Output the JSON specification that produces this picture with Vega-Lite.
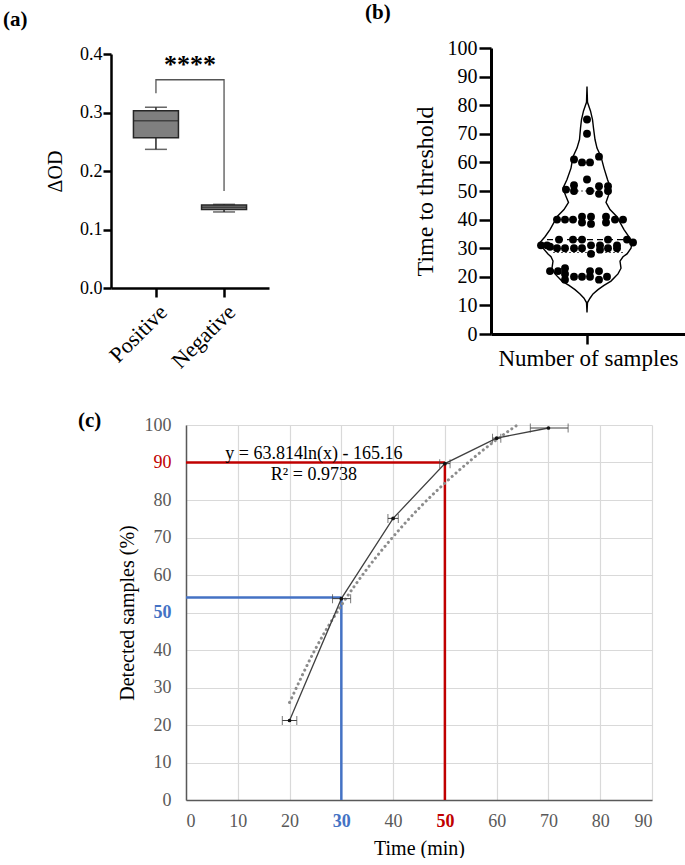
{
  "$schema": "https://vega.github.io/schema/vega-lite/v6.json",
  "padding": {"left": 3, "top": 2, "right": 0, "bottom": 0},
  "config": {
    "font": "Liberation Serif",
    "view": {"stroke": null},
    "title": {"fontSize": 21, "fontWeight": "bold", "anchor": "start", "frame": "group", "color": "black", "font": "Liberation Serif"},
    "axis": {"labelFont": "Liberation Serif", "titleFont": "Liberation Serif", "titleFontWeight": "normal", "titleColor": "black", "labelColor": "black"}
  },
  "spacing": 38,
  "vconcat": [
    {
      "bounds": "flush",
      "spacing": 222,
      "hconcat": [
        {
          "title": {"text": "(a)", "dx": -108, "offset": 15},
          "width": 158,
          "height": 240,
          "layer": [
            {
              "data": {"values": [
                {"group": "Positive", "min": 0.237, "q1": 0.257, "median": 0.286, "q3": 0.303, "max": 0.309},
                {"group": "Negative", "min": 0.130, "q1": 0.134, "median": 0.138, "q3": 0.142, "max": 0.143}
              ]},
              "layer": [
                {
                  "mark": {"type": "rule", "color": "#262626", "strokeWidth": 1.5},
                  "encoding": {
                    "x": {"field": "group", "type": "nominal", "sort": ["Positive", "Negative"], "scale": {"type": "point", "padding": 0.66},
                      "axis": {"title": null, "labelAngle": -45, "labelFontSize": 22, "domainColor": "black", "domainWidth": 2.5, "tickColor": "black", "tickWidth": 2.5, "tickSize": 9, "labelPadding": 4}},
                    "y": {"field": "min", "type": "quantitative", "scale": {"domain": [0, 0.4], "range": [240, 6], "nice": false},
                      "axis": {"title": "ΔOD", "values": [0, 0.1, 0.2, 0.3, 0.4], "format": ".1f", "labelFontSize": 18, "titleFontSize": 20, "domainColor": "black", "domainWidth": 2.5, "tickColor": "black", "tickWidth": 2.5, "tickSize": 8, "labelPadding": 1, "grid": false, "titlePadding": 14}},
                    "y2": {"field": "max"}
                  }
                },
                {
                  "mark": {"type": "bar", "width": 45, "fill": "#7f7f7f", "stroke": "#262626", "strokeWidth": 1.5},
                  "encoding": {
                    "x": {"field": "group", "type": "nominal", "sort": ["Positive", "Negative"]},
                    "y": {"field": "q1", "type": "quantitative", "axis": {"values": [0, 0.1, 0.2, 0.3, 0.4]}},
                    "y2": {"field": "q3"}
                  }
                },
                {
                  "mark": {"type": "tick", "size": 45, "thickness": 1.5, "color": "#262626"},
                  "encoding": {
                    "x": {"field": "group", "type": "nominal", "sort": ["Positive", "Negative"]},
                    "y": {"field": "median", "type": "quantitative", "axis": {"values": [0, 0.1, 0.2, 0.3, 0.4]}}
                  }
                },
                {
                  "mark": {"type": "tick", "size": 22, "thickness": 1.5, "color": "#262626"},
                  "encoding": {
                    "x": {"field": "group", "type": "nominal", "sort": ["Positive", "Negative"]},
                    "y": {"field": "min", "type": "quantitative", "axis": {"values": [0, 0.1, 0.2, 0.3, 0.4]}}
                  }
                },
                {
                  "mark": {"type": "tick", "size": 22, "thickness": 1.5, "color": "#262626"},
                  "encoding": {
                    "x": {"field": "group", "type": "nominal", "sort": ["Positive", "Negative"]},
                    "y": {"field": "max", "type": "quantitative", "axis": {"values": [0, 0.1, 0.2, 0.3, 0.4]}}
                  }
                }
              ]
            },
            {
              "data": {"values": [
                {"group": "Positive", "v": 0.333, "o": 1},
                {"group": "Positive", "v": 0.356, "o": 2},
                {"group": "Negative", "v": 0.356, "o": 3},
                {"group": "Negative", "v": 0.166, "o": 4}
              ]},
              "mark": {"type": "line", "color": "#555555", "strokeWidth": 1.3},
              "encoding": {
                "x": {"field": "group", "type": "nominal", "sort": ["Positive", "Negative"]},
                "y": {"field": "v", "type": "quantitative", "axis": {"values": [0, 0.1, 0.2, 0.3, 0.4]}},
                "order": {"field": "o", "type": "quantitative"}
              }
            },
            {
              "data": {"values": [{"group": "Positive", "v": 0.368, "label": "****"}]},
              "mark": {"type": "text", "fontSize": 26, "fontWeight": "bold", "dx": 34, "baseline": "alphabetic", "align": "center", "color": "black"},
              "encoding": {
                "x": {"field": "group", "type": "nominal", "sort": ["Positive", "Negative"]},
                "y": {"field": "v", "type": "quantitative", "axis": {"values": [0, 0.1, 0.2, 0.3, 0.4]}},
                "text": {"field": "label"}
              }
            }
          ]
        },
        {
          "title": {"text": "(b)", "dx": -126, "offset": 15},
          "width": 194,
          "height": 286,
          "layer": [
            {
              "data": {"values": [
                {"t": 86.5, "left": 0, "right": 0},
                {"t": 81, "left": -0.5, "right": 0.5},
                {"t": 78, "left": -3.5, "right": 3.5},
                {"t": 75, "left": -5.5, "right": 5.5},
                {"t": 72, "left": -6.5, "right": 6.5},
                {"t": 68, "left": -7.5, "right": 8},
                {"t": 65, "left": -10, "right": 10},
                {"t": 62, "left": -14, "right": 14},
                {"t": 58, "left": -16, "right": 17},
                {"t": 54, "left": -20, "right": 20.5},
                {"t": 51, "left": -24, "right": 23.5},
                {"t": 48.5, "left": -21.5, "right": 21.5},
                {"t": 46, "left": -18.5, "right": 19},
                {"t": 43.5, "left": -23, "right": 23},
                {"t": 41, "left": -30, "right": 30},
                {"t": 39, "left": -33, "right": 33},
                {"t": 36.5, "left": -37, "right": 37},
                {"t": 34, "left": -42, "right": 42},
                {"t": 32, "left": -47, "right": 45},
                {"t": 30, "left": -44, "right": 44},
                {"t": 28, "left": -39, "right": 40},
                {"t": 27, "left": -36, "right": 36},
                {"t": 25.5, "left": -34, "right": 33},
                {"t": 23, "left": -35, "right": 34},
                {"t": 21, "left": -32, "right": 31},
                {"t": 18.5, "left": -25, "right": 24},
                {"t": 17, "left": -18, "right": 17},
                {"t": 15.5, "left": -12, "right": 11},
                {"t": 14, "left": -7, "right": 6},
                {"t": 12.5, "left": -3, "right": 3},
                {"t": 11, "left": -0.5, "right": 0.5},
                {"t": 7.5, "left": 0, "right": 0}
              ]},
              "mark": {"type": "area", "orient": "horizontal", "fillOpacity": 0, "stroke": "black", "strokeWidth": 1.4},
              "encoding": {
                "y": {"field": "t", "type": "quantitative", "scale": {"domain": [0, 100], "nice": false},
                  "axis": {"title": "Time to threshold", "values": [0, 10, 20, 30, 40, 50, 60, 70, 80, 90, 100], "labelFontSize": 20, "titleFontSize": 24, "domainColor": "black", "domainWidth": 3, "tickColor": "black", "tickWidth": 2.5, "tickSize": 12, "labelPadding": 2, "grid": false, "titlePadding": 10}},
                "x": {"field": "left", "type": "quantitative", "scale": {"domain": [-96, 98], "nice": false},
                  "axis": {"title": "Number of samples", "values": [0], "labels": false, "titleFontSize": 23, "domainColor": "black", "domainWidth": 3, "tickColor": "black", "tickWidth": 2.5, "tickSize": 10, "grid": false, "titlePadding": 2}},
                "x2": {"field": "right"}
              }
            },
            {
              "data": {"values": [
                {"t": 33, "a": -40, "b": 42, "kind": "median"},
                {"t": 28.5, "a": -34, "b": 38, "kind": "quartile"},
                {"t": 50, "a": -10, "b": 12, "kind": "quartile"}
              ]},
              "layer": [
                {
                  "transform": [{"filter": "datum.kind == 'median'"}],
                  "mark": {"type": "rule", "color": "black", "strokeWidth": 1.2, "strokeDash": [6, 4]},
                  "encoding": {
                    "y": {"field": "t", "type": "quantitative", "axis": {"values": [0, 10, 20, 30, 40, 50, 60, 70, 80, 90, 100]}},
                    "x": {"field": "a", "type": "quantitative", "axis": {"values": [0]}},
                    "x2": {"field": "b"}
                  }
                },
                {
                  "transform": [{"filter": "datum.kind == 'quartile'"}],
                  "mark": {"type": "rule", "color": "#555555", "strokeWidth": 1.2, "strokeDash": [2, 2]},
                  "encoding": {
                    "y": {"field": "t", "type": "quantitative", "axis": {"values": [0, 10, 20, 30, 40, 50, 60, 70, 80, 90, 100]}},
                    "x": {"field": "a", "type": "quantitative", "axis": {"values": [0]}},
                    "x2": {"field": "b"}
                  }
                }
              ]
            },
            {
              "data": {"values": [
                {"t": 75, "off": 0}, {"t": 70, "off": 0},
                {"t": 62, "off": 12}, {"t": 61, "off": -13}, {"t": 60, "off": -5}, {"t": 60, "off": 3},
                {"t": 54, "off": 0},
                {"t": 50.5, "off": -21}, {"t": 52, "off": -13}, {"t": 50, "off": -13}, {"t": 50, "off": 3}, {"t": 51.7, "off": 12}, {"t": 49, "off": 12}, {"t": 51.7, "off": 21}, {"t": 50, "off": 21},
                {"t": 40, "off": -30}, {"t": 40, "off": -22}, {"t": 40, "off": -14}, {"t": 41, "off": -5}, {"t": 39, "off": -5}, {"t": 41, "off": 4}, {"t": 38.5, "off": 4}, {"t": 41, "off": 19}, {"t": 39, "off": 19}, {"t": 40, "off": 28}, {"t": 40, "off": 36},
                {"t": 31, "off": -46}, {"t": 31, "off": -40}, {"t": 33, "off": -28}, {"t": 33, "off": -14}, {"t": 33, "off": -5}, {"t": 30.5, "off": -37}, {"t": 30, "off": -30}, {"t": 30, "off": -22}, {"t": 30, "off": -13}, {"t": 30, "off": -5}, {"t": 31, "off": 4}, {"t": 28, "off": 4}, {"t": 31, "off": 13}, {"t": 29.5, "off": 13}, {"t": 33, "off": 21}, {"t": 30, "off": 21}, {"t": 31, "off": 30}, {"t": 30, "off": 30}, {"t": 33, "off": 40}, {"t": 32, "off": 46},
                {"t": 22, "off": -37}, {"t": 22, "off": -29}, {"t": 23, "off": -22}, {"t": 21, "off": -22}, {"t": 19, "off": -22}, {"t": 20, "off": -13}, {"t": 20, "off": -5}, {"t": 22, "off": 3}, {"t": 20, "off": 3}, {"t": 22, "off": 12}, {"t": 19, "off": 12}, {"t": 20, "off": 20}
              ]},
              "mark": {"type": "circle", "size": 62, "color": "black", "opacity": 1},
              "encoding": {
                "y": {"field": "t", "type": "quantitative", "axis": {"values": [0, 10, 20, 30, 40, 50, 60, 70, 80, 90, 100]}},
                "x": {"field": "off", "type": "quantitative", "axis": {"values": [0]}}
              }
            }
          ]
        }
      ]
    },
    {
      "bounds": "flush",
      "spacing": 0,
      "hconcat": [
        {
          "width": 75,
          "height": 10,
          "data": {"values": []},
          "mark": "point"
        },
        {
          "title": {"text": "(c)", "dx": -108, "offset": -15},
          "width": 466,
          "height": 375,
          "layer": [
            {
              "data": {"values": [
                {"x1": 0, "x2": 30, "y1": 54, "y2": 54, "ref": "a"},
                {"x1": 30, "x2": 30, "y1": 0, "y2": 54, "ref": "a"},
                {"x1": 0, "x2": 50, "y1": 90, "y2": 90, "ref": "b"},
                {"x1": 50, "x2": 50, "y1": 0, "y2": 90, "ref": "b"}
              ]},
              "mark": {"type": "rule", "strokeWidth": 2.5},
              "encoding": {
                "x": {"field": "x1", "type": "quantitative", "scale": {"domain": [0, 90], "nice": false},
                  "axis": {"title": "Time (min)", "values": [0, 10, 20, 30, 40, 50, 60, 70, 80, 90], "grid": true, "gridColor": "#d9d9d9", "gridWidth": 1.2, "ticks": false, "domainColor": "#595959", "domainWidth": 1.5, "labelFontSize": 18, "labelPadding": 12, "titleFontSize": 20, "titlePadding": 8,
                    "labelColor": {"condition": [{"test": "datum.value == 30", "value": "#4472C4"}, {"test": "datum.value == 50", "value": "#C00000"}], "value": "#595959"},
                    "labelFontWeight": {"condition": {"test": "datum.value == 30 || datum.value == 50", "value": "bold"}, "value": "normal"}}},
                "x2": {"field": "x2"},
                "y": {"field": "y1", "type": "quantitative", "scale": {"domain": [0, 100], "nice": false},
                  "axis": {"title": "Detected samples (%)", "values": [0, 10, 20, 30, 40, 50, 60, 70, 80, 90, 100], "grid": true, "gridColor": "#d9d9d9", "gridWidth": 1.2, "ticks": false, "domainColor": "#595959", "domainWidth": 1.5, "labelFontSize": 18, "labelPadding": 15, "titleFontSize": 20, "titlePadding": 7,
                    "labelColor": {"condition": [{"test": "datum.value == 50", "value": "#4472C4"}, {"test": "datum.value == 90", "value": "#C00000"}], "value": "#595959"},
                    "labelFontWeight": {"condition": {"test": "datum.value == 50", "value": "bold"}, "value": "normal"}}},
                "y2": {"field": "y2"},
                "color": {"field": "ref", "type": "nominal", "scale": {"domain": ["a", "b"], "range": ["#4472C4", "#C00000"]}, "legend": null}
              }
            },
            {
              "data": {"values": [
                {"t": 20, "p": 26.0}, {"t": 25, "p": 40.3}, {"t": 30, "p": 51.9}, {"t": 35, "p": 61.7}, {"t": 40, "p": 70.2},
                {"t": 45, "p": 77.8}, {"t": 50, "p": 84.5}, {"t": 55, "p": 90.6}, {"t": 60, "p": 96.1}, {"t": 64, "p": 100}
              ]},
              "mark": {"type": "line", "color": "#8c8c8c", "strokeWidth": 3, "strokeDash": [0.1, 5], "strokeCap": "round", "interpolate": "monotone"},
              "encoding": {
                "x": {"field": "t", "type": "quantitative", "axis": {"values": [0, 10, 20, 30, 40, 50, 60, 70, 80, 90]}},
                "y": {"field": "p", "type": "quantitative", "axis": {"values": [0, 10, 20, 30, 40, 50, 60, 70, 80, 90, 100]}}
              }
            },
            {
              "data": {"values": [
                {"t": 20, "p": 21.2, "lo": 18.6, "hi": 21.4},
                {"t": 30, "p": 53.7, "lo": 28.3, "hi": 31.8},
                {"t": 40, "p": 75.1, "lo": 39, "hi": 41},
                {"t": 50, "p": 89.7, "lo": 49, "hi": 51},
                {"t": 60, "p": 96.5, "lo": 59.2, "hi": 60.8},
                {"t": 70, "p": 99.2, "lo": 66.5, "hi": 73.8}
              ]},
              "layer": [
                {
                  "mark": {"type": "line", "color": "#404040", "strokeWidth": 1.3},
                  "encoding": {
                    "x": {"field": "t", "type": "quantitative", "axis": {"values": [0, 10, 20, 30, 40, 50, 60, 70, 80, 90]}},
                    "y": {"field": "p", "type": "quantitative", "axis": {"values": [0, 10, 20, 30, 40, 50, 60, 70, 80, 90, 100]}}
                  }
                },
                {
                  "mark": {"type": "rule", "color": "#404040", "strokeWidth": 1},
                  "encoding": {
                    "x": {"field": "lo", "type": "quantitative", "axis": {"values": [0, 10, 20, 30, 40, 50, 60, 70, 80, 90]}},
                    "x2": {"field": "hi"},
                    "y": {"field": "p", "type": "quantitative", "axis": {"values": [0, 10, 20, 30, 40, 50, 60, 70, 80, 90, 100]}}
                  }
                },
                {
                  "mark": {"type": "tick", "orient": "vertical", "size": 9, "thickness": 1, "color": "#404040"},
                  "encoding": {
                    "x": {"field": "lo", "type": "quantitative", "axis": {"values": [0, 10, 20, 30, 40, 50, 60, 70, 80, 90]}},
                    "y": {"field": "p", "type": "quantitative", "axis": {"values": [0, 10, 20, 30, 40, 50, 60, 70, 80, 90, 100]}}
                  }
                },
                {
                  "mark": {"type": "tick", "orient": "vertical", "size": 9, "thickness": 1, "color": "#404040"},
                  "encoding": {
                    "x": {"field": "hi", "type": "quantitative", "axis": {"values": [0, 10, 20, 30, 40, 50, 60, 70, 80, 90]}},
                    "y": {"field": "p", "type": "quantitative", "axis": {"values": [0, 10, 20, 30, 40, 50, 60, 70, 80, 90, 100]}}
                  }
                },
                {
                  "mark": {"type": "circle", "size": 14, "color": "#111111", "opacity": 1},
                  "encoding": {
                    "x": {"field": "t", "type": "quantitative", "axis": {"values": [0, 10, 20, 30, 40, 50, 60, 70, 80, 90]}},
                    "y": {"field": "p", "type": "quantitative", "axis": {"values": [0, 10, 20, 30, 40, 50, 60, 70, 80, 90, 100]}}
                  }
                }
              ]
            },
            {
              "data": {"values": [
                {"t": 24.7, "p": 92.2, "label": "y = 63.814ln(x) - 165.16"},
                {"t": 24.7, "p": 86.6, "label": "R² = 0.9738"}
              ]},
              "mark": {"type": "text", "fontSize": 18, "color": "black", "baseline": "middle", "align": "center"},
              "encoding": {
                "x": {"field": "t", "type": "quantitative", "axis": {"values": [0, 10, 20, 30, 40, 50, 60, 70, 80, 90]}},
                "y": {"field": "p", "type": "quantitative", "axis": {"values": [0, 10, 20, 30, 40, 50, 60, 70, 80, 90, 100]}},
                "text": {"field": "label"}
              }
            }
          ]
        }
      ]
    }
  ]
}
